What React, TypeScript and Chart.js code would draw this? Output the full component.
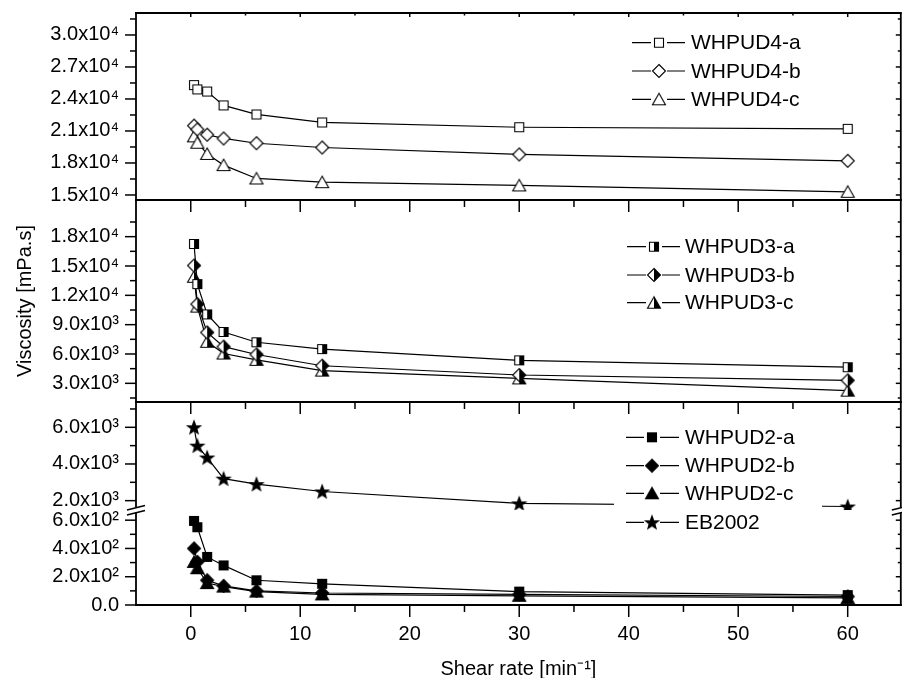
import React, { useEffect, useRef } from 'react';
import { Chart, registerables } from 'chart.js';

Chart.register(...registerables);

const FONT = "'Liberation Sans', Arial, Helvetica, sans-serif";

// ---- data ----
const shearRate = [0.3, 0.6, 1.5, 3, 6, 12, 30, 60];

const whpud4a = [25300, 24900, 24700, 23400, 22550, 21800, 21350, 21200];
const whpud4b = [21500, 21150, 20650, 20300, 19850, 19450, 18800, 18200];
const whpud4c = [20500, 19900, 18850, 17800, 16550, 16200, 15900, 15300];

const whpud3a = [17250, 13150, 10050, 8250, 7200, 6500, 5350, 4650];
const whpud3b = [15050, 11100, 8200, 6750, 5950, 4800, 3850, 3300];
const whpud3c = [13900, 10850, 7250, 6050, 5400, 4300, 3500, 2250];

const eb2002 = [6000, 5000, 4350, 3200, 2900, 2500, 1850, 1680];
const whpud2a = [595, 550, 340, 280, 175, 150, 95, 70];
const whpud2b = [400, 305, 175, 135, 100, 85, 75, 60];
const whpud2c = [305, 260, 155, 130, 95, 75, 65, 50];

// ---- ticks ----
const xTickValues = [0, 10, 20, 30, 40, 50, 60];
const xTickLabels = ['0', '10', '20', '30', '40', '50', '60'];

const panelATicks = [15000, 18000, 21000, 24000, 27000, 30000];
const panelATickLabels = ['1.5x10⁴', '1.8x10⁴', '2.1x10⁴', '2.4x10⁴', '2.7x10⁴', '3.0x10⁴'];
const panelBTicks = [3000, 6000, 9000, 12000, 15000, 18000];
const panelBTickLabels = ['3.0x10³', '6.0x10³', '9.0x10³', '1.2x10⁴', '1.5x10⁴', '1.8x10⁴'];
const panelCHighTicks = [2000, 4000, 6000];
const panelCHighTickLabels = ['2.0x10³', '4.0x10³', '6.0x10³'];
const panelCLowTicks = [0, 200, 400, 600];
const panelCLowTickLabels = ['0.0', '2.0x10²', '4.0x10²', '6.0x10²'];

// axis ranges
const panelARange = [14530, 32060];
const panelBRange = [1090, 21750];
const panelCHighRange = [1490, 7380];
const panelCLowRange = [0, 672];
const xRange = [-5, 64.85];

// ---- markers ----
function makeMarker(kind: string): HTMLCanvasElement {
  const c = document.createElement('canvas');
  c.width = 18;
  c.height = 18;
  const g = c.getContext('2d')!;
  g.lineWidth = 1.1;
  g.strokeStyle = '#000';
  g.fillStyle = '#000';
  const m = 9;
  const square = () => { g.beginPath(); g.rect(4.5, 4.5, 9, 9); };
  const diamond = () => { g.beginPath(); g.moveTo(m, 2.5); g.lineTo(15.5, m); g.lineTo(m, 15.5); g.lineTo(2.5, m); g.closePath(); };
  const triangle = () => { g.beginPath(); g.moveTo(m, 3); g.lineTo(15.5, 14.5); g.lineTo(2.5, 14.5); g.closePath(); };
  const star = () => {
    g.beginPath();
    for (let i = 0; i < 10; i++) {
      const r = i % 2 === 0 ? 7 : 2.9;
      const a = -Math.PI / 2 + (i * Math.PI) / 5;
      const px = m + r * Math.cos(a);
      const py = m + 0.6 + r * Math.sin(a);
      if (i === 0) g.moveTo(px, py); else g.lineTo(px, py);
    }
    g.closePath();
  };
  const shapes: Record<string, () => void> = { square, diamond, triangle, star };
  const [style, shapeName] = kind.split(':');
  const shape = shapes[shapeName];
  if (style === 'open') {
    shape(); g.fillStyle = '#fff'; g.fill(); g.stroke();
  } else if (style === 'half') {
    shape(); g.fillStyle = '#fff'; g.fill();
    g.save(); g.beginPath(); g.rect(m, 0, 9, 18); g.clip();
    shape(); g.fillStyle = '#000'; g.fill(); g.restore();
    shape(); g.stroke();
  } else {
    shape(); g.fill(); g.stroke();
  }
  return c;
}

type LegendLayout = { box: number[]; x0: number; x1: number; mx: number; tx: number; rows: number[]; sets: number[] };

const legendLayouts: LegendLayout[] = [
  { box: [614, 28, 208, 86], x0: 632, x1: 685, mx: 659, tx: 691, rows: [42.7, 71, 99.3], sets: [0, 1, 2] },
  { box: [614, 232, 208, 86], x0: 627, x1: 680, mx: 654, tx: 685, rows: [246.7, 275, 302.7], sets: [3, 4, 5] },
  { box: [614, 424, 208, 112], x0: 626, x1: 679, mx: 652, tx: 685, rows: [437.3, 465.7, 493.3, 522.3], sets: [6, 7, 8, 9] },
];

function minorTicks(majors: number[], lo: number, hi: number): number[] {
  const step = majors[1] - majors[0];
  const out: number[] = [];
  const start = majors[0] - step / 2;
  for (let v = start; v < hi; v += step) {
    if (v > lo && v < hi && !majors.includes(v)) out.push(v);
  }
  return out;
}

const panelPlugin = {
  id: 'panelPlugin',
  afterDatasetsDraw(chart: any) {
    const ctx = chart.ctx as CanvasRenderingContext2D;
    ctx.save();
    for (const lg of legendLayouts) {
      ctx.fillStyle = '#fff';
      ctx.fillRect(lg.box[0], lg.box[1], lg.box[2], lg.box[3]);
      lg.sets.forEach((di, k) => {
        const ds = chart.data.datasets[di];
        const y = lg.rows[k];
        ctx.strokeStyle = '#000';
        ctx.lineWidth = 1.2;
        ctx.beginPath();
        ctx.moveTo(lg.x0, y); ctx.lineTo(lg.mx - 8, y);
        ctx.moveTo(lg.mx + 8, y); ctx.lineTo(lg.x1, y);
        ctx.stroke();
        ctx.drawImage(ds.pointStyle, lg.mx - 9, y - 9);
        ctx.fillStyle = '#000';
        ctx.font = `21px ${FONT}`;
        ctx.textAlign = 'left';
        ctx.textBaseline = 'middle';
        ctx.fillText(ds.label, lg.tx, y + 1);
      });
    }
    ctx.restore();
  },
  afterDraw(chart: any) {
    const ctx = chart.ctx as CanvasRenderingContext2D;
    const { left: L, right: R } = chart.chartArea;
    const sA = chart.scales.yA, sB = chart.scales.yB, sCH = chart.scales.yCH, sCL = chart.scales.yCL, sx = chart.scales.x;
    ctx.save();
    ctx.strokeStyle = '#000';
    ctx.lineCap = 'butt';
    ctx.lineWidth = 1.8;
    const line = (x0: number, y0: number, x1: number, y1: number) => {
      ctx.beginPath(); ctx.moveTo(x0, y0); ctx.lineTo(x1, y1); ctx.stroke();
    };
    [sA.top, sA.bottom, sB.bottom, sCL.bottom].forEach((y: number) => line(L - 1, y, R + 1, y));
    const breakY = sCH.bottom;
    const gap = 2.5;
    [L, R].forEach((x) => {
      line(x, sA.top, x, breakY - gap);
      line(x, breakY + gap, x, sCL.bottom + 1);
    });
    ctx.lineWidth = 1.4;
    [L, R].forEach((x) => {
      ctx.fillStyle = '#fff';
      ctx.beginPath();
      ctx.moveTo(x - 8, breakY + 0.5); ctx.lineTo(x + 8, breakY - 3.5);
      ctx.lineTo(x + 8, breakY - 0.5); ctx.lineTo(x - 8, breakY + 3.5); ctx.closePath();
      ctx.fill();
      line(x - 9, breakY - gap + 2.5, x + 9, breakY - gap - 2);
      line(x - 9, breakY + gap + 2.5, x + 9, breakY + gap - 2);
    });
    ctx.lineWidth = 1.5;
    const panels = [
      { s: sA, major: panelATicks, r: panelARange },
      { s: sB, major: panelBTicks, r: panelBRange },
      { s: sCH, major: panelCHighTicks, r: panelCHighRange },
      { s: sCL, major: panelCLowTicks, r: panelCLowRange },
    ];
    for (const p of panels) {
      const minors = minorTicks(p.major, p.r[0], p.r[1]);
      p.major.forEach((v) => {
        const y = p.s.getPixelForValue(v);
        line(L - 11, y, L, y);
        line(R, y, R - 5, y);
      });
      minors.forEach((v) => {
        const y = p.s.getPixelForValue(v);
        if (Math.abs(y - breakY) < 4) return;
        line(L - 6, y, L, y);
        line(R, y, R - 3, y);
      });
    }
    const xMinors = minorTicks(xTickValues, xRange[0], xRange[1]);
    [sA.bottom, sB.bottom, sCL.bottom].forEach((yb: number) => {
      xTickValues.forEach((v) => { const x = sx.getPixelForValue(v); line(x, yb, x, yb + 12); });
      xMinors.forEach((v) => { const x = sx.getPixelForValue(v); line(x, yb, x, yb + 7); });
    });
    xTickValues.forEach((v) => { const x = sx.getPixelForValue(v); line(x, sA.top, x, sA.top + 4); });
    xMinors.forEach((v) => { const x = sx.getPixelForValue(v); line(x, sA.top, x, sA.top + 2.5); });
    ctx.restore();
  },
};

const clearPadding = (s: any) => {
  s.paddingTop = 0;
  s.paddingBottom = 0;
  s.paddingLeft = 0;
  s.paddingRight = 0;
};

const TARGET_RIGHT = 901;
const START_W = 906;

export default function App() {
  const ref = useRef<HTMLCanvasElement | null>(null);

  useEffect(() => {
    document.body.style.margin = '0';
    Chart.defaults.font.family = FONT;
    Chart.defaults.color = '#000';

    const mk = {
      oSq: makeMarker('open:square'), oDi: makeMarker('open:diamond'), oTr: makeMarker('open:triangle'),
      hSq: makeMarker('half:square'), hDi: makeMarker('half:diamond'), hTr: makeMarker('half:triangle'),
      fSq: makeMarker('fill:square'), fDi: makeMarker('fill:diamond'), fTr: makeMarker('fill:triangle'),
      fSt: makeMarker('fill:star'),
    };

    const ds = (label: string, values: number[], marker: HTMLCanvasElement, axis: string) => ({
      label,
      data: shearRate.map((x, i) => ({ x, y: values[i] })),
      yAxisID: axis,
      borderColor: '#000',
      borderWidth: 1.2,
      pointStyle: marker,
      pointRadius: 7,
      pointHoverRadius: 7,
      fill: false,
      tension: 0,
    });

    const yScale = (range: number[], weight: number, ticks: number[], labels: string[], extra: any = {}) => ({
      type: 'linear',
      position: 'left',
      stack: 'panels',
      stackWeight: weight,
      min: range[0],
      max: range[1],
      afterBuildTicks: (s: any) => { s.ticks = ticks.map((v) => ({ value: v })); },
      afterFit: (s: any) => { s.width = 136; clearPadding(s); },
      grid: { display: false, drawTicks: false },
      border: { display: false },
      ticks: {
        autoSkip: false,
        padding: 17,
        color: '#000',
        font: { size: 20, family: FONT },
        callback: (_v: any, i: number) => labels[i],
      },
      ...extra,
    });

    const build = () => new Chart(ref.current!, {
      type: 'line',
      data: {
        datasets: [
          ds('WHPUD4-a', whpud4a, mk.oSq, 'yA'),
          ds('WHPUD4-b', whpud4b, mk.oDi, 'yA'),
          ds('WHPUD4-c', whpud4c, mk.oTr, 'yA'),
          ds('WHPUD3-a', whpud3a, mk.hSq, 'yB'),
          ds('WHPUD3-b', whpud3b, mk.hDi, 'yB'),
          ds('WHPUD3-c', whpud3c, mk.hTr, 'yB'),
          ds('WHPUD2-a', whpud2a, mk.fSq, 'yCL'),
          ds('WHPUD2-b', whpud2b, mk.fDi, 'yCL'),
          ds('WHPUD2-c', whpud2c, mk.fTr, 'yCL'),
          ds('EB2002', eb2002, mk.fSt, 'yCH'),
        ] as any,
      },
      options: {
        responsive: false,
        maintainAspectRatio: false,
        animation: false,
        layout: { padding: { top: 13, right: 0, left: 0, bottom: 0 } },
        plugins: { legend: { display: false }, tooltip: { enabled: false } },
        events: [],
        scales: {
          x: {
            type: 'linear',
            position: 'bottom',
            min: xRange[0],
            max: xRange[1],
            afterBuildTicks: (s: any) => { s.ticks = xTickValues.map((v) => ({ value: v })); },
            afterFit: (s: any) => { s.height = 73; clearPadding(s); },
            grid: { display: false, drawTicks: false },
            border: { display: false },
            ticks: {
              autoSkip: false,
              maxRotation: 0,
              padding: 17,
              color: '#000',
              font: { size: 20, family: FONT },
              callback: (_v: any, i: number) => xTickLabels[i],
            },
            title: {
              display: true,
              text: 'Shear rate [min⁻¹]',
              color: '#000',
              font: { size: 20, family: FONT, lineHeight: 0.82 },
              padding: 0,
            },
          },
          yCL: yScale(panelCLowRange, 95, panelCLowTicks, panelCLowTickLabels),
          yCH: yScale(panelCHighRange, 108, panelCHighTicks, panelCHighTickLabels),
          yB: yScale(panelBRange, 202, panelBTicks, panelBTickLabels, {
            title: {
              display: true,
              text: 'Viscosity [mPa.s]',
              color: '#000',
              font: { size: 20, family: FONT },
              padding: { top: 13, bottom: 0 },
            },
          }),
          yA: yScale(panelARange, 187, panelATicks, panelATickLabels),
        } as any,
      },
      plugins: [panelPlugin as any],
    });

    const canvas = ref.current!;
    let w = START_W;
    let chart = build();
    // the layout keeps a small fixed right margin; widen the (clipped) canvas until the
    // frame's right edge lands where it is in the reference
    for (let k = 0; k < 3; k++) {
      const diff = TARGET_RIGHT - chart.chartArea.right;
      if (Math.abs(diff) <= 0.5) break;
      chart.destroy();
      w = Math.round(w + diff);
      canvas.width = w;
      canvas.height = 678;
      canvas.style.width = `${w}px`;
      canvas.style.height = '678px';
      chart = build();
    }
    return () => chart.destroy();
  }, []);

  return (
    <div style={{ width: 902, height: 678, overflow: 'hidden' }}>
      <canvas ref={ref} width={START_W} height={678} style={{ display: 'block', width: START_W, height: 678 }} />
    </div>
  );
}
